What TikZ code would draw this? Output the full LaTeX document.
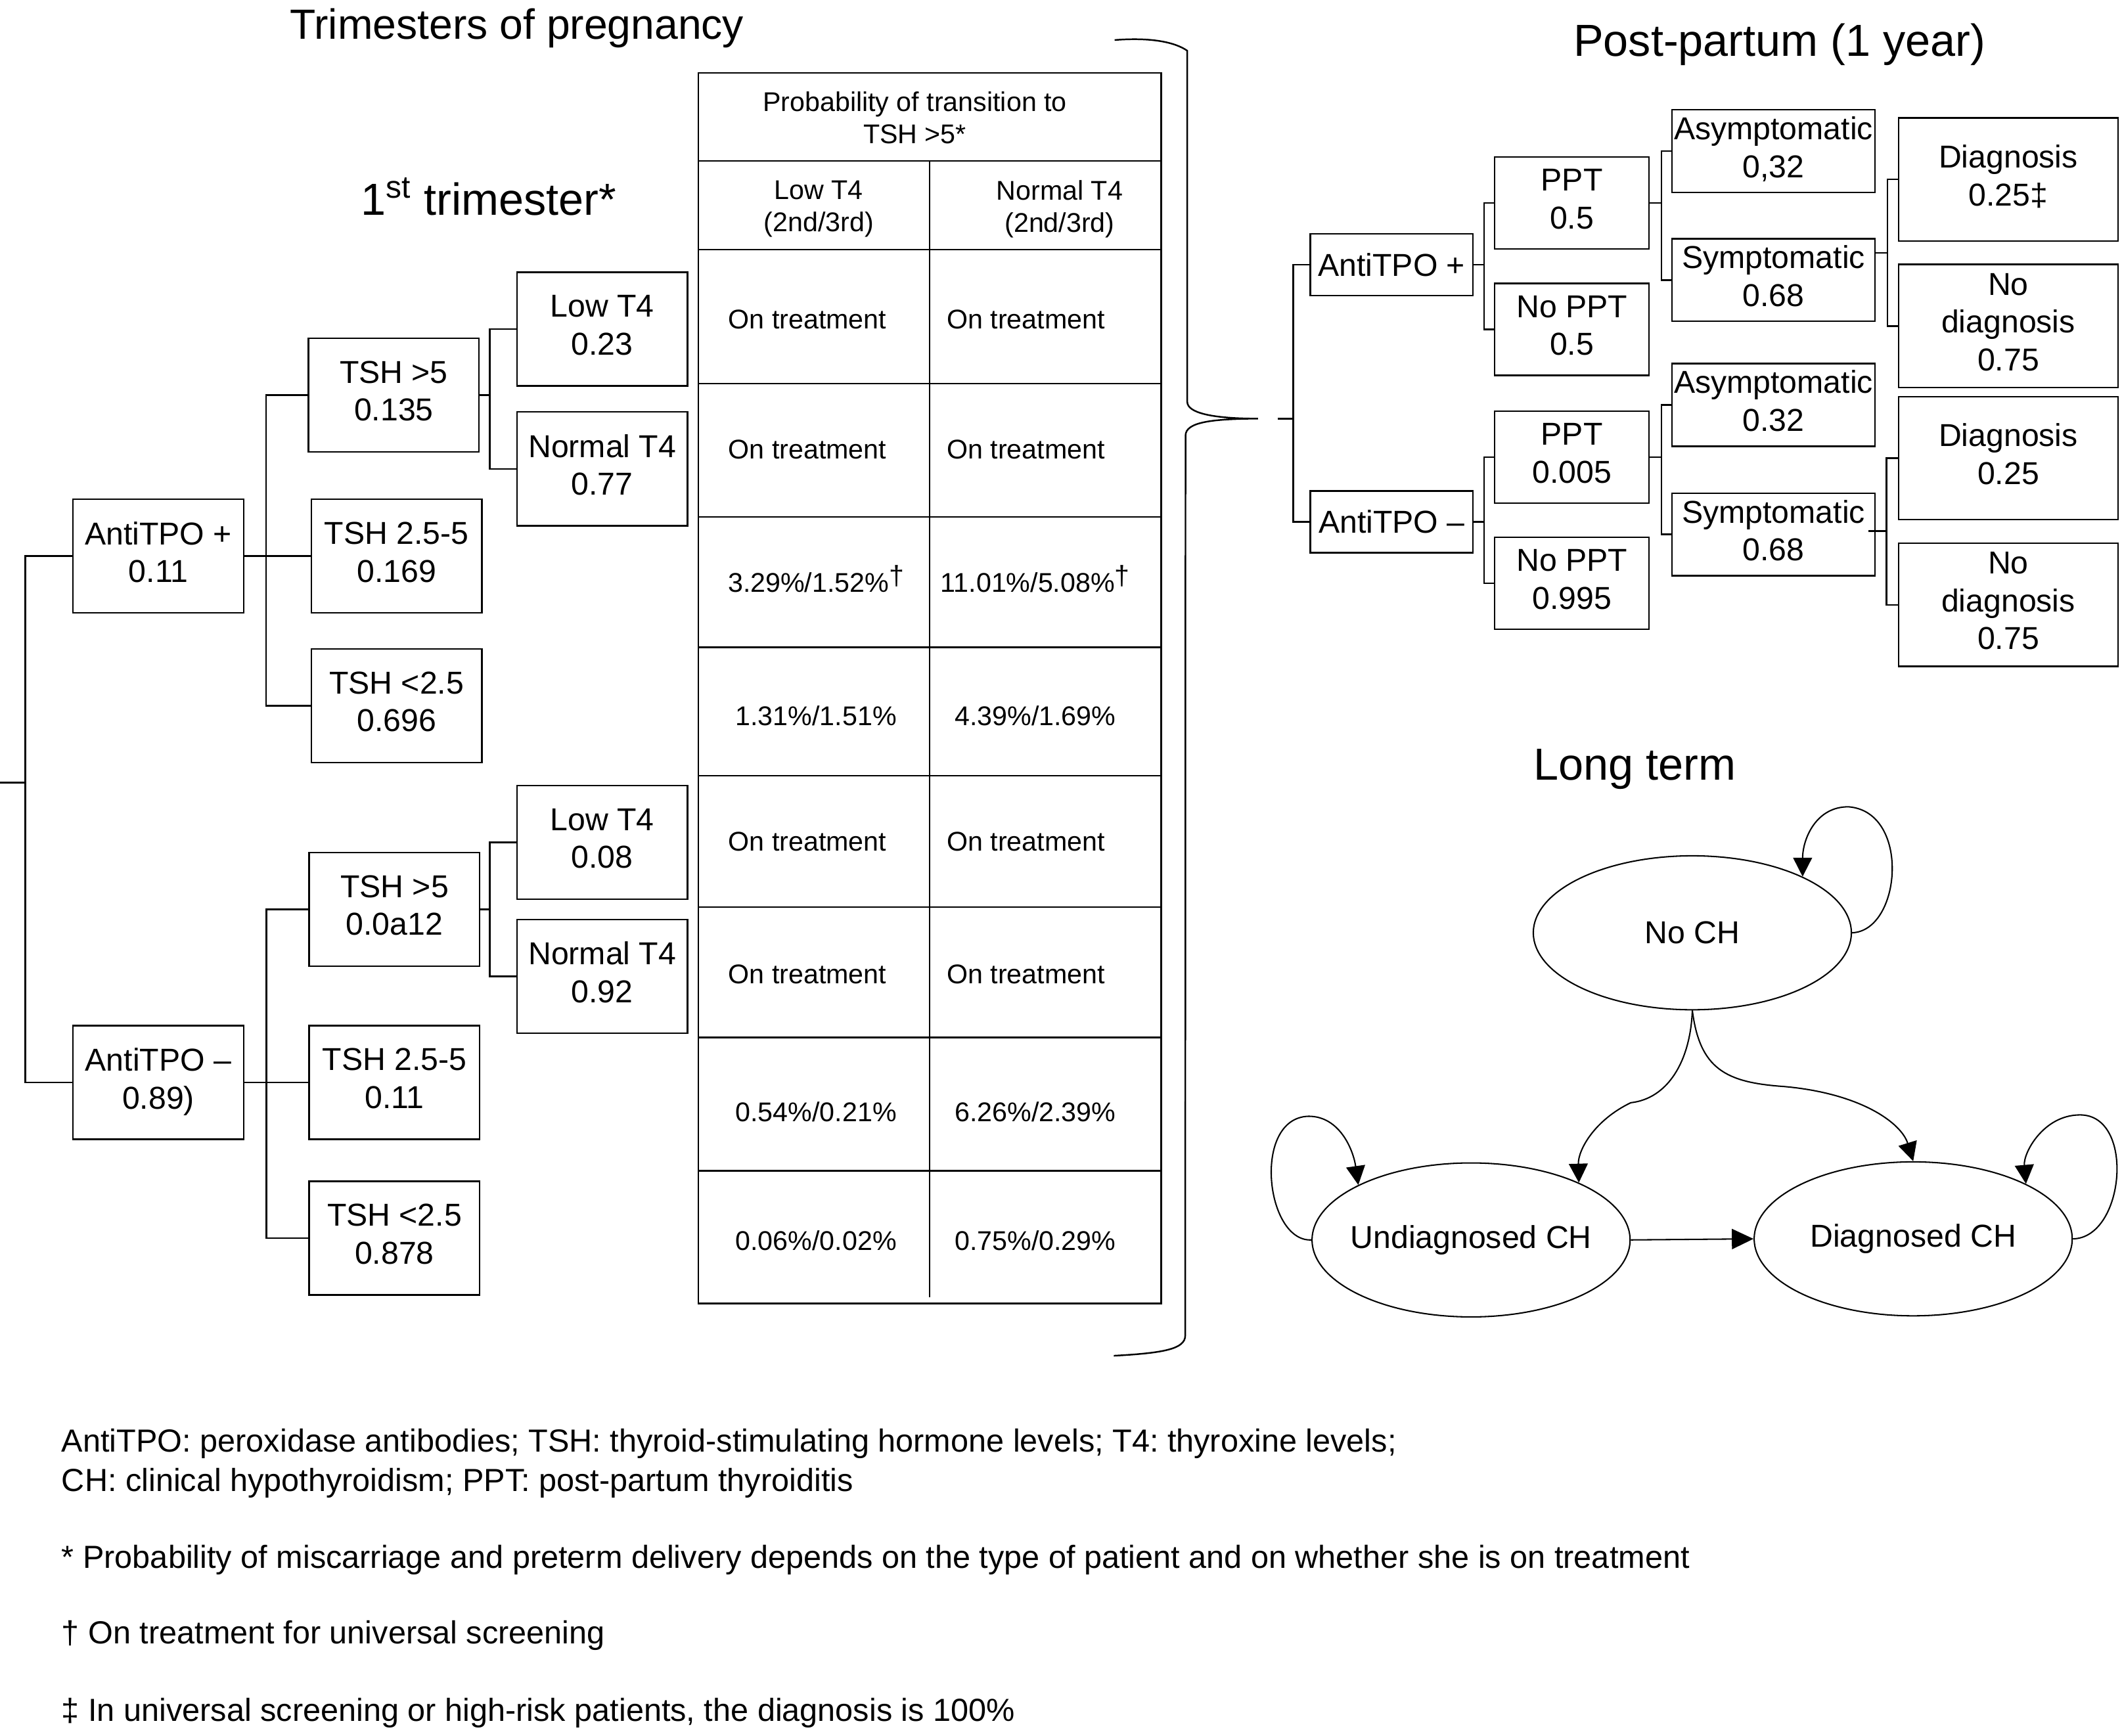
\documentclass[tikz,border=0pt]{standalone}
\usepackage{fontspec}
\setmainfont{Liberation Sans}
\usetikzlibrary{shapes.geometric,arrows.meta}
\frenchspacing
\newcommand{\dg}{\raisebox{2.6pt}{†}}
\newcommand{\zw}[1]{\makebox[0pt]{#1}}
\begin{document}
\begin{tikzpicture}[x=0.5pt,y=-0.5pt, line width=0.6pt,
  bx/.style={draw, rectangle, inner sep=0pt, align=center, font=\fontsize{11.7}{14}\selectfont},
  up/.style={execute at end node={\rule[-3pt]{0pt}{0pt}}},
  lb/.style={bx, up, minimum width=63pt, minimum height=42pt},
  pa/.style={bx, minimum width=60pt, minimum height=22.75pt},
  pb/.style={bx, up, minimum width=57pt, minimum height=34pt},
  pc/.style={bx, up, minimum width=75pt, minimum height=30.5pt},
  pd/.style={bx, up, minimum width=81pt, minimum height=45.5pt},
  cell/.style={anchor=base, inner sep=0pt, font=\fontsize{10}{12.4}\selectfont},
  hcell/.style={anchor=center, inner sep=0pt, align=center, font=\fontsize{10}{12}\selectfont},
  ttl/.style={anchor=base, inner sep=0pt, font=\fontsize{16.6}{20}\selectfont},
  fn/.style={anchor=base west, inner sep=0pt, font=\fontsize{11.8}{14}\selectfont},
  st/.style={draw, ellipse, line width=0.5pt, minimum width=117.5pt, minimum height=56.9pt, inner sep=0pt, font=\fontsize{11.7}{14}\selectfont},
  ar/.style={line width=0.5pt, -{Triangle[length=7pt,width=7pt]}},
]
\useasboundingbox (0,0) rectangle (1568,1283);

% ---------- titles ----------
\node[ttl, font=\fontsize{15.6}{20}\selectfont] (tt1) at (382,29) {Trimesters of pregnancy};
\node[ttl] (tt2) at (361,159) {1\textsuperscript{st} trimester*};
\node[ttl] (tt3) at (1315,41.6) {Post-partum (1 year)};
\node[ttl] (tt4) at (1208,576.6) {Long term};

% ---------- left tree ----------
\node[lb] (ap) at (117,411) {AntiTPO +\\0.11};
\node[lb] (am) at (117,800) {AntiTPO –\\0.89)};
\node[lb] (t1) at (291,292) {TSH >5\\0.135};
\node[lb] (t2) at (293,411) {TSH 2.5-5\\0.169};
\node[lb] (t3) at (293,521.5) {TSH <2.5\\0.696};
\node[lb] (t4) at (291.5,672) {TSH >5\\0.0a12};
\node[lb] (t5) at (291.5,800) {TSH 2.5-5\\0.11};
\node[lb] (t6) at (291.5,915) {TSH <2.5\\0.878};
\node[lb] (l1) at (445,243.3) {Low T4\\0.23};
\node[lb] (n1) at (445,346.5) {Normal T4\\0.77};
\node[lb] (l2) at (445,622.6) {Low T4\\0.08};
\node[lb] (n2) at (445,721.6) {Normal T4\\0.92};

\coordinate (rin) at (0,578.5);
\coordinate (r) at (18.7,578.5);
\draw (rin) -- (r);
\draw (ap.west) -| (r) |- (am.west);
\coordinate (j1) at (196.5,411);
\draw (ap.east) -- (t2.west);
\draw (t1.west) -| (j1) |- (t3.west);
\coordinate (j2) at (196.8,800);
\draw (am.east) -- (t5.west);
\draw (t4.west) -| (j2) |- (t6.west);
\coordinate (k1) at (362,292);
\draw (t1.east) -- (k1);
\draw (l1.west) -| (k1) |- (n1.west);
\coordinate (k2) at (362,672);
\draw (t4.east) -- (k2);
\draw (l2.west) -| (k2) |- (n2.west);

% ---------- table ----------
\draw (516,54) rectangle (858,963.4);
\foreach \yy in {119,184.6,283.6,382,478.5,573.3,670.4,766.8,865.2}
  \draw (516,\yy) -- (858,\yy);
\draw (687,119) -- (687,958.7);
\node[hcell] (h0) at (676,87) {Probability of transition to\\TSH >5*};
\node[hcell] (h1) at (605,154.5) {Low T4\\(2nd/3rd)};
\node[hcell] (h2) at (783,154.5) {Normal T4\\(2nd/3rd)};
\node[cell] (c11) at (596.6,243) {On treatment};
\node[cell] (c12) at (758,243) {On treatment};
\node[cell] (c21) at (596.6,339) {On treatment};
\node[cell] (c22) at (758,339) {On treatment};
\node[cell] (c31) at (603,437.6) {3.29\%/1.52\%\dg};
\node[cell] (c32) at (765,437.6) {11.01\%/5.08\%\dg};
\node[cell] (c41) at (603,536) {1.31\%/1.51\%};
\node[cell] (c42) at (765,536) {4.39\%/1.69\%};
\node[cell] (c51) at (596.6,629) {On treatment};
\node[cell] (c52) at (758,629) {On treatment};
\node[cell] (c61) at (596.6,727) {On treatment};
\node[cell] (c62) at (758,727) {On treatment};
\node[cell] (c71) at (603,829) {0.54\%/0.21\%};
\node[cell] (c72) at (765,829) {6.26\%/2.39\%};
\node[cell] (c81) at (603,924) {0.06\%/0.02\%};
\node[cell] (c82) at (765,924) {0.75\%/0.29\%};

% ---------- brace ----------
\draw (823.6,29.6) .. controls (850,27.5) and (868,31) .. (877.3,37.5)
  -- (877.3,297) .. controls (877.3,305) and (895,309.4) .. (929.6,309.4)
  .. controls (895,309.6) and (876,312) .. (876,322)
  -- (875.8,987) .. controls (875.8,997) and (860,1000) .. (823,1002);

% ---------- post-partum tree ----------
\node[pa] (pa) at (1028.3,195.7) {AntiTPO +};
\node[pa] (pm) at (1028.3,385.7) {AntiTPO –};
\node[pb] (ppt1) at (1161.5,150) {PPT\\0.5};
\node[pb] (nop1) at (1161.5,243.5) {No PPT\\0.5};
\node[pb] (ppt2) at (1161.5,337.8) {PPT\\0.005};
\node[pb] (nop2) at (1161.5,431) {No PPT\\0.995};
\node[pc] (as1) at (1310.5,111.7) {Asymptomatic\\0,32};
\node[pc] (sy1) at (1310.5,207) {Symptomatic\\0.68};
\node[pc] (as2) at (1310.5,299.3) {Asymptomatic\\0.32};
\node[pc] (sy2) at (1310.5,395) {Symptomatic\\0.68};
\node[pd] (dg1) at (1484,132.6) {Diagnosis\\0.25‡};
\node[pd] (nd1) at (1484,241) {No\\diagnosis\\0.75};
\node[pd] (dg2) at (1484,338.6) {Diagnosis\\0.25};
\node[pd] (nd2) at (1484,447) {No\\diagnosis\\0.75};

\coordinate (ppin) at (944,309.4);
\coordinate (ppj) at (955.5,309.4);
\draw (ppin) -- (ppj);
\draw (pa.west) -| (ppj) |- (pm.west);
\coordinate (q1) at (1096.6,195.7);
\draw (pa.east) -- (q1);
\draw (ppt1.west) -| (q1) |- (nop1.west);
\coordinate (q2) at (1096.6,385.7);
\draw (pm.east) -- (q2);
\draw (ppt2.west) -| (q2) |- (nop2.west);
\coordinate (q3) at (1227.7,150);
\draw (ppt1.east) -- (q3);
\draw (as1.west) -| (q3) |- (sy1.west);
\coordinate (q4) at (1227.7,337.8);
\draw (ppt2.east) -- (q4);
\draw (as2.west) -| (q4) |- (sy2.west);
\coordinate (q5) at (1394.7,187);
\draw (sy1.east |- q5) -- (q5);
\draw (dg1.west) -| (q5) |- (nd1.west);
\coordinate (q6) at (1394,392.5);
\draw (sy2.east |- q6) ++(-5.4,0) -- (q6);
\draw (dg2.west) -| (q6) |- (nd2.west);

% ---------- long term ----------
\node[st] (noch) at (1250.5,689.4) {\zw{No CH}};
\node[st] (und) at (1087,916.4) {\zw{Undiagnosed CH}};
\node[st] (dia) at (1413.7,915.6) {\zw{Diagnosed CH}};

\draw[ar] (noch.east) .. controls (1405,688) and (1412,600) .. (1366,596.3)
  .. controls (1342,596) and (1332,620) .. (noch.27.4);
\draw[ar] (noch.south) .. controls (1249,785) and (1232,812) .. (1205,815)
  .. controls (1178,828) and (1166,850) .. (und.28);
\draw[ar] (noch.south) .. controls (1256,790) and (1275,800) .. (1318,803)
  .. controls (1375,808) and (1405,830) .. (dia.north);
\draw[ar, -{Triangle[length=8pt,width=7.5pt]}] (und.east) -- (dia.west);
\draw[ar] (und.west) .. controls (935,918) and (925,826) .. (967,825)
  .. controls (990,825) and (1000,850) .. (und.154);
\draw[ar] (dia.east) .. controls (1570,915) and (1578,824) .. (1537,824)
  .. controls (1510,824) and (1495,852) .. (dia.26);

% ---------- footnotes ----------
\node[fn] (f1) at (45,1073) {AntiTPO: peroxidase antibodies; TSH: thyroid-stimulating hormone levels; T4: thyroxine levels;};
\node[fn] (f2) at (45,1102) {CH: clinical hypothyroidism; PPT: post-partum thyroiditis};
\node[fn] (f3) at (45,1159) {* Probability of miscarriage and preterm delivery depends on the type of patient and on whether she is on treatment};
\node[fn] (f4) at (45,1215) {† On treatment for universal screening};
\node[fn] (f5) at (45,1272) {‡ In universal screening or high-risk patients, the diagnosis is 100\%};
\end{tikzpicture}
\end{document}
